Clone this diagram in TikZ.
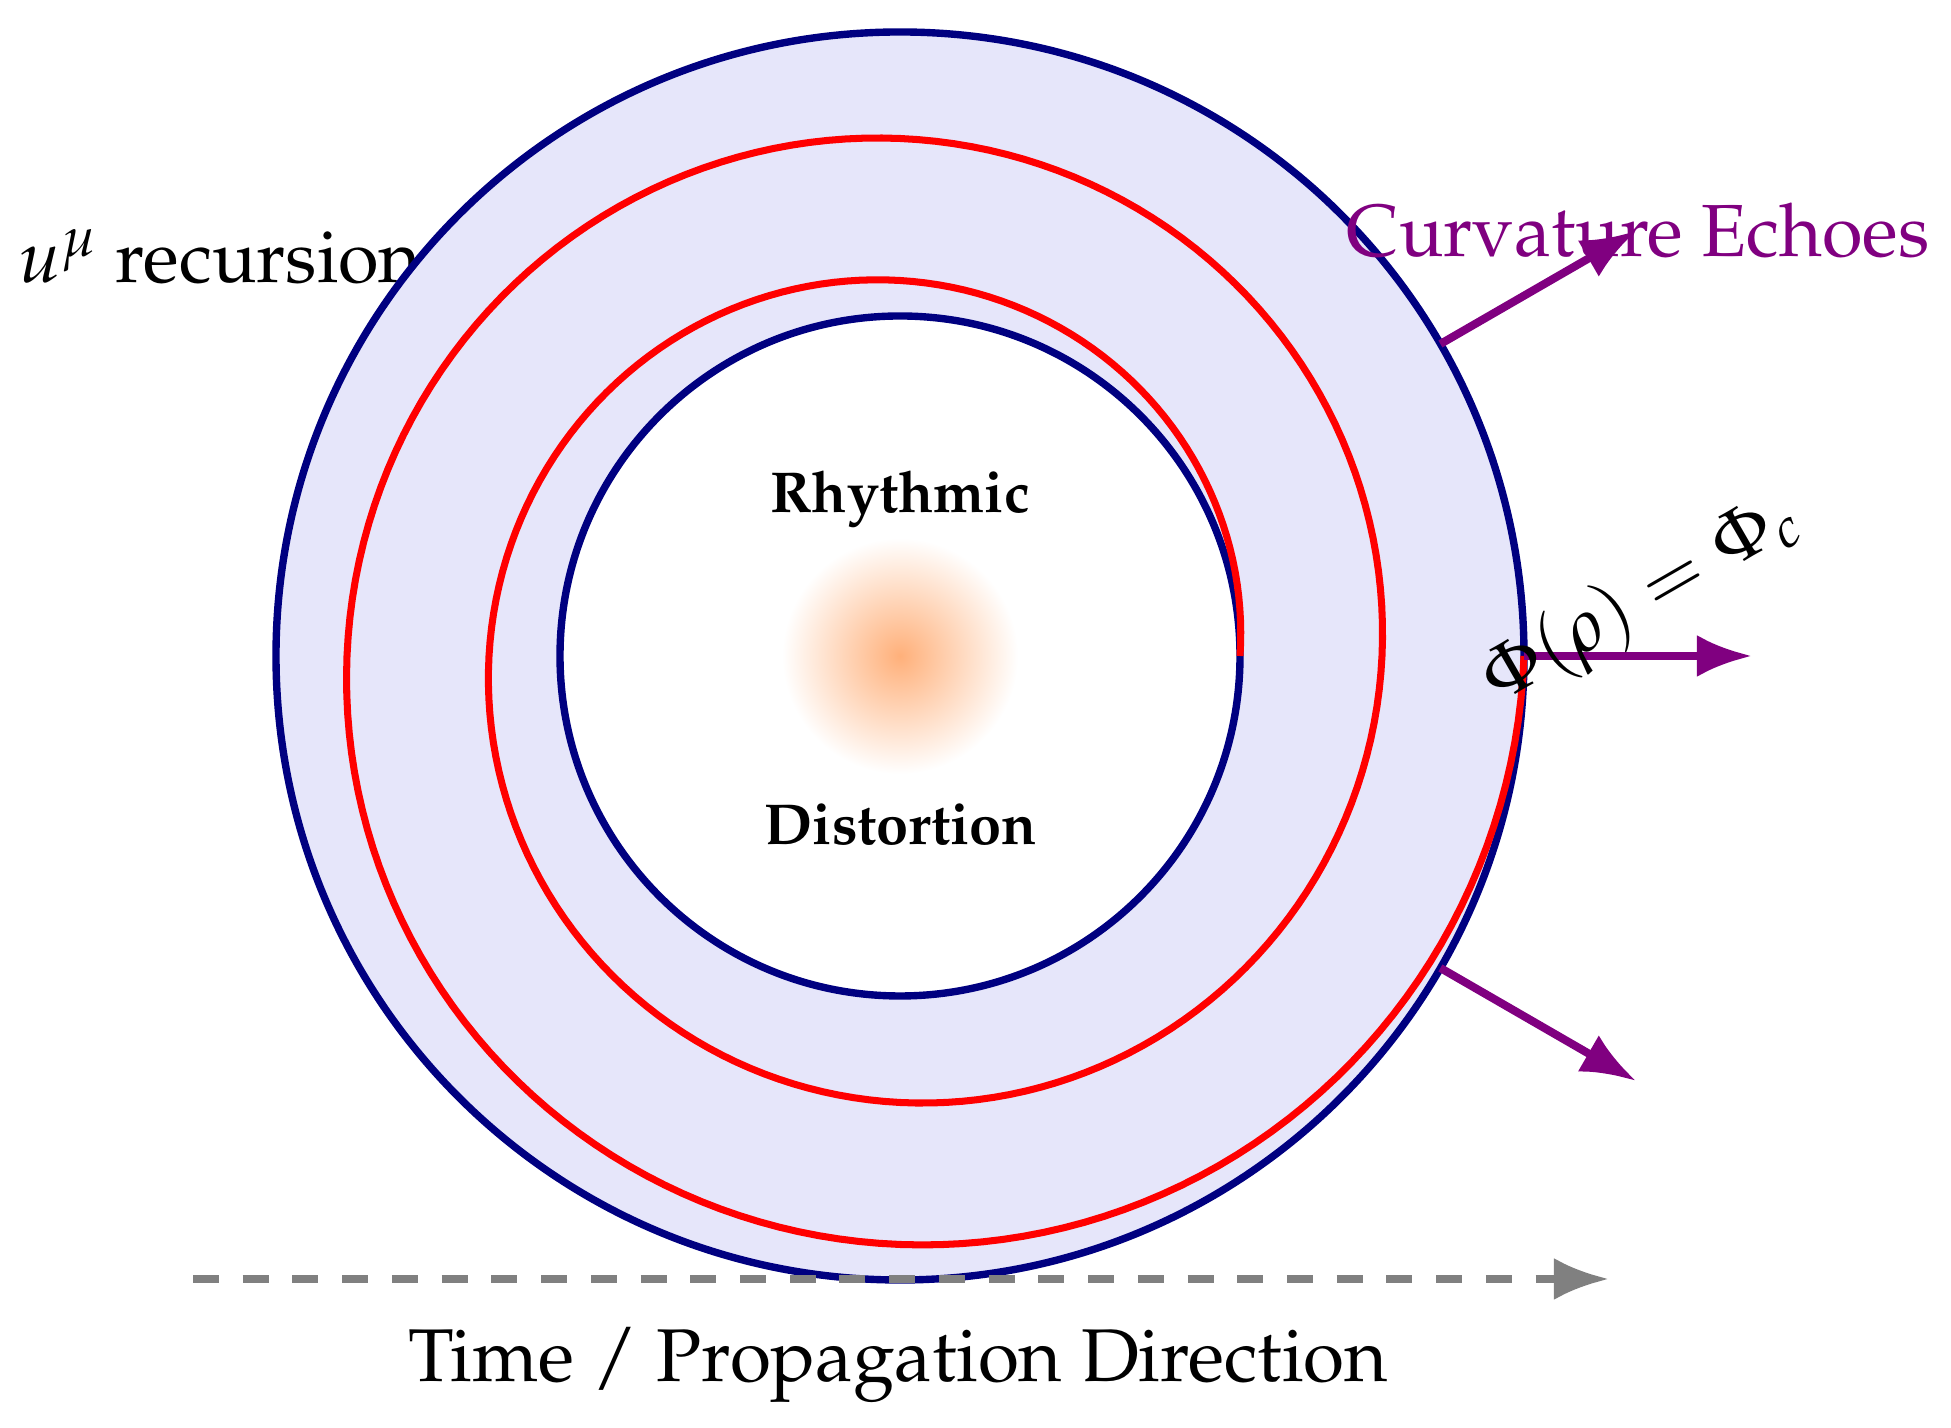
\documentclass[tikz,border=0pt]{standalone}
\usepackage[T1]{fontenc}
\usepackage{mathpazo}
\usetikzlibrary{arrows.meta,calc}
\definecolor{navyc}{HTML}{000080}
\definecolor{purplec}{HTML}{800080}
\definecolor{lav}{HTML}{E6E6FA}
\definecolor{glowc}{HTML}{FFB07A}
\begin{document}
\begin{tikzpicture}[x=0.01cm,y=0.01cm,
  ring/.style={draw=navyc, line width=2.1pt},
  spiral/.style={draw=red, line width=2pt},
  echo/.style={draw=purplec, line width=2.3pt, -{Latex[length=0.55cm,width=0.42cm]}},
  timeline/.style={draw=gray, line width=2.2pt, dash pattern=on 7.4pt off 6.74pt, -{Latex[length=0.55cm,width=0.42cm]}},
  lbl/.style={inner sep=0pt, font=\fontsize{21}{25}\selectfont},
  core/.style={inner sep=0pt, font=\fontsize{16.4}{20}\selectfont\bfseries}]
\useasboundingbox (0,0) rectangle (1951,1428);
\coordinate (C) at (900,772);
% left label (drawn below the rings)
\node[lbl, anchor=base west] (rec) at (18,1145) {$u^{\mu}$ recursion};
% annulus fill
\fill[lav, even odd rule] (C) circle (624) (C) circle (340);
% glow
\shade[inner color=glowc, outer color=white] (C) circle (118);
% rings
\draw[ring] (C) circle (624);
\draw[ring] (C) circle (340);
% spiral
\draw[spiral, shift={(C)}] plot[domain=0:720, samples=361] ({\x}:{340+0.394444*\x});
% echoes
\coordinate (e1s) at ($(C)+(30:624)$);
\coordinate (e1t) at ($(C)+(30:850)$);
\coordinate (e2s) at ($(C)+(0:624)$);
\coordinate (e2t) at ($(C)+(0:852)$);
\coordinate (e3s) at ($(C)+(-30:624)$);
\coordinate (e3t) at ($(C)+(-30:850)$);
\draw[echo] (e1s) -- (e1t);
\draw[echo] (e2s) -- (e2t);
\draw[echo] (e3s) -- (e3t);
% time axis
\coordinate (ts) at (193,149);
\coordinate (te) at (1609,149);
\draw[timeline] (ts) -- (te);
% labels
\node[lbl, anchor=base west, text=purplec] (ech) at (1346,1171) {Curvature Echoes};
\node[lbl, rotate=30] (phi) at (1641,828) {$\Phi(\rho) = \Phi_c$};
\node[lbl, anchor=base, font=\fontsize{21.25}{25}\selectfont] (time) at (898.5,46) {Time / Propagation Direction};
\node[core, anchor=base] (rhy) at (900,915) {Rhythmic};
\node[core, anchor=base] (dis) at (901,583) {Distortion};
\end{tikzpicture}
\end{document}
